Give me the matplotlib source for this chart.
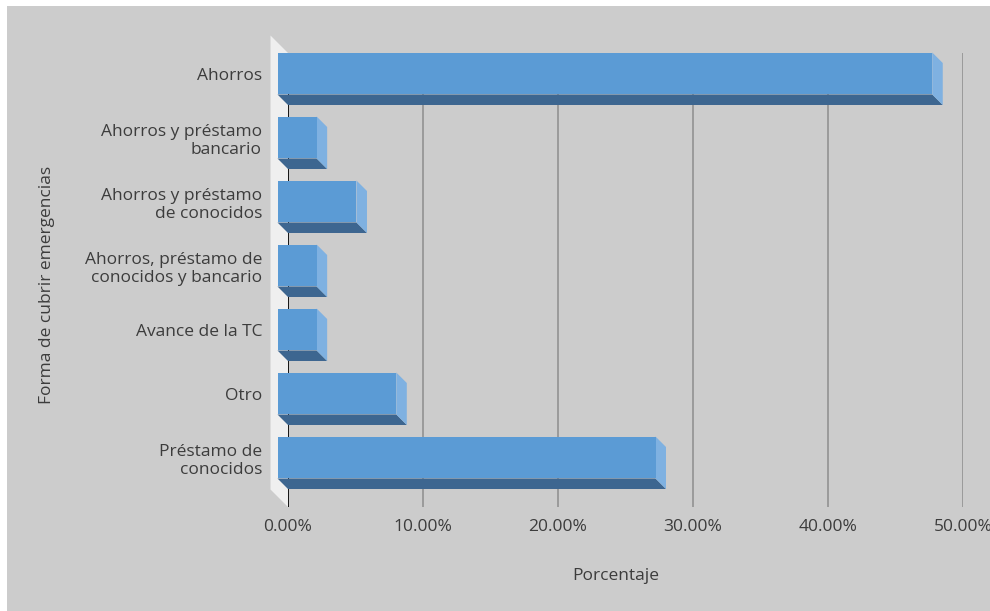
import matplotlib
matplotlib.use("Agg")
import matplotlib.pyplot as plt
import matplotlib.transforms as mtransforms
from matplotlib.patches import Polygon, Rectangle
from matplotlib.ticker import FuncFormatter

plt.rcParams['font.family'] = ['Open Sans', 'DejaVu Sans']

categories = [
    "Ahorros",
    "Ahorros y préstamo\nbancario",
    "Ahorros y préstamo\nde conocidos",
    "Ahorros, préstamo de\nconocidos y bancario",
    "Avance de la TC",
    "Otro",
    "Préstamo de\nconocidos",
]
values = [48.5, 2.9, 5.85, 2.9, 2.9, 8.8, 28.0]
x_ticks = [0, 10, 20, 30, 40, 50]

TEXT = '#3c3c3c'
FRONT = '#5b9bd5'
BOTTOM = '#3d6690'
SIDE = '#7fb1e1'
BAR_DEPTH = 10.5   # pixels
WALL_DEPTH = 17.5  # pixels
HALF_H = 0.328

W, H = 990, 611
fig = plt.figure(figsize=(W / 100, H / 100), dpi=100, facecolor='white')
fig.add_artist(Rectangle((7 / W, 0), 1, (H - 6) / H, transform=fig.transFigure,
                         facecolor='#cccccc', edgecolor='none', zorder=-10))

# back plane of the plot in pixels: x 288..963, y 53..507
left, right, top, bottom = 288, 963, 53, 507
ax = fig.add_axes([left / W, (H - bottom) / H, (right - left) / W, (bottom - top) / H])
ax.set_facecolor('none')
ax.set_xlim(0, 50)
row_px = 64.0
ax.set_ylim((bottom - 84) / row_px, (top - 84) / row_px)

px_x = 50 / (right - left)
px_y = (ax.get_ylim()[0] - ax.get_ylim()[1]) / (bottom - top)

# left wall
y0, y1 = ax.get_ylim()[1], ax.get_ylim()[0]
wx, wy = WALL_DEPTH * px_x, WALL_DEPTH * px_y
ax.add_patch(Polygon([(0, y0), (-wx, y0 - wy), (-wx, y1 - wy), (0, y1)],
                     closed=True, facecolor='#efefef', edgecolor='none',
                     clip_on=False, zorder=0))

ax.grid(axis='x', color='#9a9a9a', linewidth=1.4, zorder=1)
ax.set_axisbelow(True)
ax.axvline(0, color='black', linewidth=1.2, zorder=2)

dx, dy = BAR_DEPTH * px_x, BAR_DEPTH * px_y
for i, v in enumerate(values):
    yt, yb = i - HALF_H, i + HALF_H
    bottom_face = [(-dx, yb - dy), (v - dx, yb - dy), (v, yb), (0, yb)]
    side_face = [(v - dx, yt - dy), (v, yt), (v, yb), (v - dx, yb - dy)]
    front_face = [(-dx, yt - dy), (v - dx, yt - dy), (v - dx, yb - dy), (-dx, yb - dy)]
    for pts, col in ((bottom_face, BOTTOM), (side_face, SIDE), (front_face, FRONT)):
        ax.add_patch(Polygon(pts, closed=True, facecolor=col, edgecolor='none',
                             clip_on=False, zorder=3))

ax.set_xticks(x_ticks)
ax.xaxis.set_major_formatter(FuncFormatter(lambda x, _: f"{x:.2f}%"))
ax.set_yticks(range(len(categories)))
ax.set_yticklabels(categories, multialignment='right')
ax.tick_params(axis='both', length=0, labelsize=12.5, labelcolor=TEXT)
ax.tick_params(axis='y', pad=26 * 0.72)
ax.tick_params(axis='x', pad=12 * 0.72)

# category labels sit level with the front faces
shift = mtransforms.ScaledTranslation(0, BAR_DEPTH / 100, fig.dpi_scale_trans)
for lab in ax.get_yticklabels():
    lab.set_transform(lab.get_transform() + shift)

for s in ax.spines.values():
    s.set_visible(False)

fig.text(616 / W, 1 - 576 / H, "Porcentaje", ha='center', va='center',
         fontsize=12.5, color=TEXT)
fig.text(47 / W, 1 - 285 / H, "Forma de cubrir emergencias", ha='center',
         va='center', rotation=90, fontsize=12.5, color=TEXT)

fig.savefig("out.png", dpi=100, facecolor=fig.get_facecolor())
